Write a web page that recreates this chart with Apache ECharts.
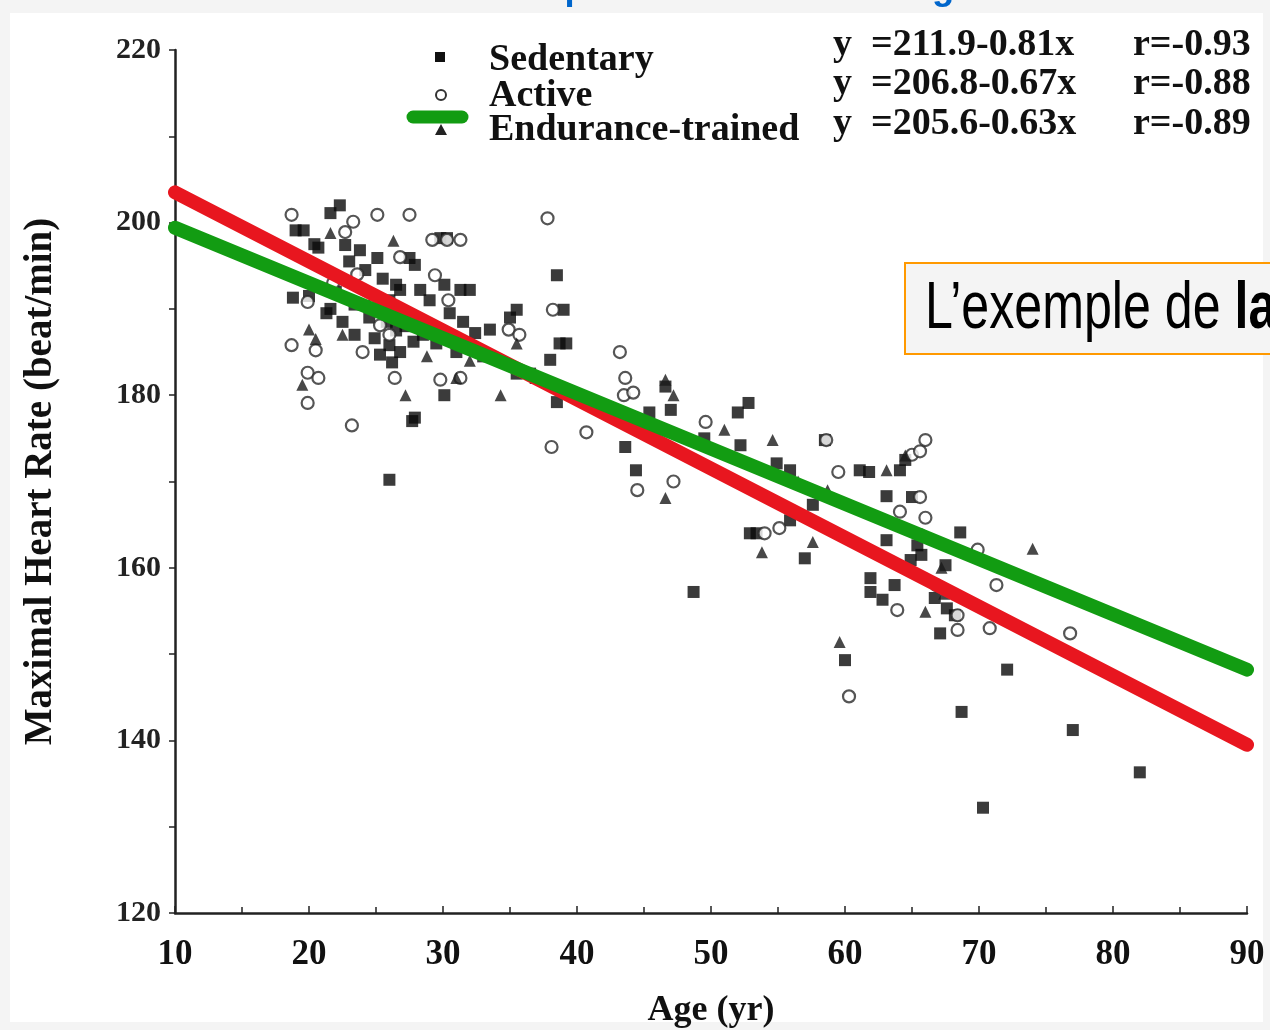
<!DOCTYPE html>
<html>
<head>
<meta charset="utf-8">
<script src="https://cdn.jsdelivr.net/npm/echarts@6/dist/echarts.min.js"></script>
<style>
html,body{margin:0;padding:0;background:#f4f4f4;}
#chart{width:1270px;height:1030px;}
</style>
</head>
<body>
<div id="chart"></div>
<script>
// ---- data ----
const sedentary = [[22.3,202.0],[21.6,201.1],[19.0,199.1],[19.6,199.1],[20.4,197.5],[20.7,197.1],[22.7,197.4],[23.8,196.8],[25.1,195.9],[27.5,195.9],[27.9,195.1],[29.8,198.2],[30.3,198.2],[18.8,191.3],[21.3,189.5],[21.6,190.0],[23.4,190.5],[26.0,191.0],[26.8,192.2],[28.3,192.2],[30.1,192.8],[31.3,192.2],[32.0,192.2],[23.4,187.0],[24.9,186.6],[26.0,185.8],[26.8,185.0],[25.3,184.7],[26.2,183.8],[27.9,177.4],[27.7,177.0],[30.1,180.0],[26.0,170.2],[32.4,187.2],[33.5,187.6],[35.5,189.9],[35.0,189.0],[38.5,193.9],[39.0,189.9],[38.7,186.0],[39.2,186.0],[38.0,184.1],[38.5,179.2],[35.5,182.5],[43.6,174.0],[44.4,171.3],[45.4,178.0],[47.0,178.3],[46.6,181.0],[49.5,175.0],[52.0,178.0],[52.8,179.1],[52.2,174.2],[52.9,164.0],[53.4,164.0],[54.9,172.1],[55.9,171.3],[55.9,165.5],[57.0,161.1],[57.6,167.3],[58.5,174.8],[48.7,157.2],[60.0,149.3],[61.1,171.3],[61.8,171.1],[61.9,158.8],[61.9,157.2],[62.8,156.3],[63.1,163.2],[63.1,168.3],[63.7,158.0],[64.1,171.3],[64.5,172.5],[64.9,160.9],[65.0,168.2],[65.4,162.6],[65.7,161.5],[66.7,156.5],[67.1,152.4],[67.5,160.3],[67.6,155.3],[68.2,154.5],[68.6,164.1],[68.7,143.3],[70.3,132.2],[72.1,148.2],[77.0,141.2],[82.0,136.3],[23.0,195.5],[24.2,194.5],[25.5,193.5],[26.5,192.8],[29.0,191.0],[30.5,189.5],[31.5,188.5],[27.2,188.0],[28.5,187.0],[22.0,192.0],[20.0,191.5],[25.8,188.5],[29.5,186.0],[31.0,185.0],[33.0,184.5],[36.5,182.5],[24.5,189.0],[27.8,186.2],[22.5,188.5],[26.5,187.5]];
const active = [[18.7,200.9],[25.1,200.9],[27.5,200.9],[23.3,200.1],[22.7,198.9],[29.2,198.0],[30.3,198.0],[31.3,198.0],[19.9,190.8],[18.7,185.8],[20.5,185.2],[19.9,182.6],[20.7,182.0],[19.9,179.1],[23.2,176.5],[24.0,185.0],[25.3,188.1],[26.0,187.0],[26.4,182.0],[28.3,188.7],[29.4,193.9],[29.8,181.8],[30.4,191.0],[31.3,182.0],[37.8,200.5],[38.2,189.9],[34.9,187.6],[35.7,187.0],[38.1,174.0],[40.7,175.7],[43.2,185.0],[43.6,182.0],[43.5,180.0],[44.2,180.3],[44.5,169.0],[47.2,170.0],[49.6,176.9],[54.0,164.0],[55.1,164.6],[59.5,171.1],[60.3,145.1],[58.6,174.8],[63.9,155.1],[65.0,173.1],[65.6,173.5],[66.0,174.8],[64.1,166.5],[65.6,168.2],[66.0,165.8],[65.6,163.8],[68.4,154.5],[68.4,152.8],[69.9,162.1],[71.3,158.0],[70.8,153.0],[76.8,152.4],[66.8,158.0],[23.6,194.0],[21.8,193.0],[26.8,196.0]];
const endurance = [[21.6,198.8],[26.3,197.9],[20.0,187.6],[20.5,186.5],[19.5,181.2],[22.5,187.0],[27.2,180.0],[34.3,180.0],[36.9,182.0],[31.0,182.0],[32.0,184.0],[35.5,186.0],[46.6,168.1],[46.6,181.8],[47.2,180.0],[51.0,176.0],[54.6,174.8],[53.8,161.8],[57.6,163.0],[56.5,170.0],[59.6,151.4],[58.7,169.0],[63.1,171.3],[64.5,173.0],[66.0,154.9],[67.2,160.0],[74.0,162.2],[67.4,157.0],[24.5,190.5],[28.8,184.5]];
const sedentaryLine = [[10,203.5],[90,139.5]];
const enduranceLine = [[10,199.4],[90,148.2]];
const legendNames = ['Sedentary','Active','Endurance-trained'];
const equations = ['y  =211.9-0.81x','y  =206.8-0.67x','y  =205.6-0.63x'];
const rValues = ['r=-0.93','r=-0.88','r=-0.89'];
const xName = 'Age (yr)';
const yName = 'Maximal Heart Rate (beat/min)';
const titleText = "Exemple d'une droite de régression";
const boxText = 'L’exemple de ';
const boxTextBold = 'la';

const chart = echarts.init(document.getElementById('chart'), null, {renderer:'canvas'});
const serif = '"Liberation Serif","Times New Roman",serif';
const sans = '"Liberation Sans",Arial,sans-serif';

const graphic = [
  {type:'rect', z:-10, silent:true, shape:{x:10,y:13,width:1253,height:1009}, style:{fill:'#ffffff'}},
  {type:'text', z:10, x:467, y:-30, style:{text:titleText, font:'bold 36.5px '+sans, fill:'#0066cc', verticalAlign:'top'}},
  // legend markers
  {type:'rect', z:10, shape:{x:435,y:52,width:10,height:10}, style:{fill:'#111'}},
  {type:'circle', z:10, shape:{cx:441,cy:95,r:5}, style:{fill:'#fff', stroke:'#333', lineWidth:2}},
  {type:'line', z:10, shape:{x1:413,y1:117,x2:462,y2:117}, style:{stroke:'#129c12', lineWidth:13, lineCap:'round'}},
  {type:'polygon', z:11, shape:{points:[[441,124],[447,135],[435,135]]}, style:{fill:'#222'}},
  // orange box
  {type:'rect', z:20, shape:{x:905,y:263,width:420,height:91}, style:{fill:'#f4f4f4', stroke:'#ff9900', lineWidth:2}},
  {type:'text', z:21, x:925, y:310, scaleX:0.76, scaleY:1,
    style:{text:'{n|'+boxText+'}{b|'+boxTextBold+'}', verticalAlign:'middle',
      rich:{n:{font:'66px '+sans, fill:'#000'}, b:{font:'bold 66px '+sans, fill:'#000'}}}}
];
const legY = [60,96,130];
const eqY = [45,84,124];
legendNames.forEach((t,i)=>{
  graphic.push({type:'text', z:10, x:489, y:legY[i], style:{text:t, font:'bold 38px '+serif, fill:'#111', verticalAlign:'middle'}});
});
equations.forEach((t,i)=>{
  graphic.push({type:'text', z:10, x:833, y:eqY[i], style:{text:t, font:'bold 38px '+serif, fill:'#111', verticalAlign:'middle'}});
  graphic.push({type:'text', z:10, x:1133, y:eqY[i], style:{text:rValues[i], font:'bold 38px '+serif, fill:'#111', verticalAlign:'middle'}});
});

const option = {
  backgroundColor:'transparent',
  animation:false,
  grid:{left:175, right:23, top:50, bottom:117, containLabel:false, outerBoundsMode:'none'},
  xAxis:{
    type:'value', min:10, max:90, interval:10,
    name:xName, nameLocation:'middle', nameGap:80,
    nameTextStyle:{fontFamily:serif, fontWeight:'bold', fontSize:36, color:'#111'},
    axisLine:{lineStyle:{color:'#222', width:2.5}},
    axisTick:{show:true, inside:true, length:7, lineStyle:{color:'#222', width:1.5}},
    minorTick:{show:true, splitNumber:2, length:6, lineStyle:{color:'#222', width:1.5}},
    axisLabel:{fontFamily:serif, fontWeight:'bold', fontSize:35, color:'#111', margin:24},
    splitLine:{show:false}
  },
  yAxis:{
    type:'value', min:120, max:220, interval:20,
    name:yName, nameLocation:'middle', nameGap:115, nameRotate:90,
    nameTextStyle:{fontFamily:serif, fontWeight:'bold', fontSize:39, color:'#111'},
    axisLine:{lineStyle:{color:'#222', width:2.5}},
    axisTick:{show:true, inside:false, length:6, lineStyle:{color:'#222', width:1.5}},
    minorTick:{show:true, splitNumber:2, length:6, lineStyle:{color:'#222', width:1.5}},
    axisLabel:{fontFamily:serif, fontWeight:'bold', fontSize:30, color:'#222', margin:14},
    splitLine:{show:false}
  },
  series:[
    {name:legendNames[0], type:'scatter', data:sedentary, symbol:'rect', symbolSize:12, itemStyle:{color:'#0a0a0a'}, z:2},
    {name:legendNames[1], type:'scatter', data:active, symbol:'circle', symbolSize:12, itemStyle:{color:'#fff', borderColor:'#2a2a2a', borderWidth:2.2}, z:3},
    {name:legendNames[2], type:'scatter', data:endurance, symbol:'triangle', symbolSize:12, itemStyle:{color:'#1a1a1a'}, z:3},
    {type:'line', data:sedentaryLine, symbol:'none', lineStyle:{color:'#e8161f', width:14, cap:'round'}, z:4},
    {type:'line', data:enduranceLine, symbol:'none', lineStyle:{color:'#129c12', width:14, cap:'round'}, z:5}
  ],
  graphic:graphic
};
chart.setOption(option);
</script>
</body>
</html>
